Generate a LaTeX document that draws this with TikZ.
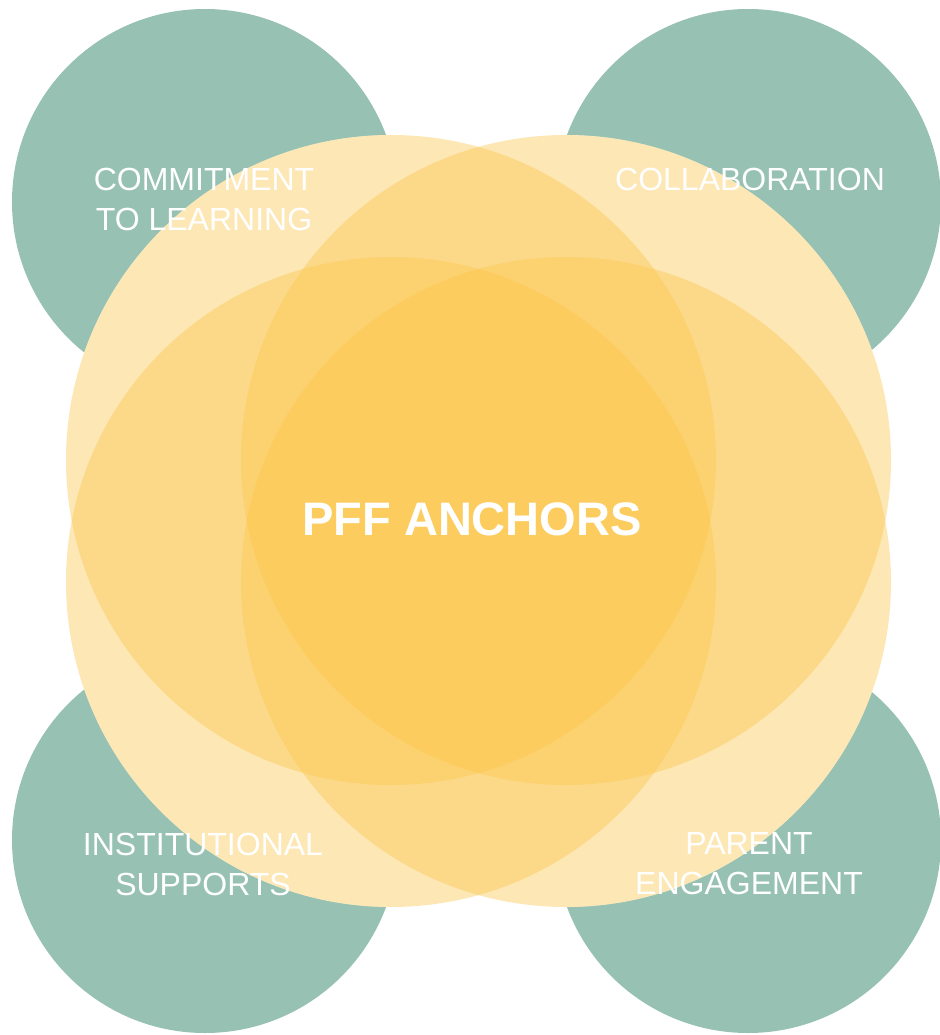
\documentclass[tikz,border=0pt]{standalone}
\usepackage{fontspec}
\setmainfont{Liberation Sans}
\definecolor{sage}{RGB}{150,193,179}
\definecolor{yel}{RGB}{252,197,72}
\tikzset{
  greencirc/.style={circle, fill=sage, minimum size=386pt, inner sep=0pt},
  yelbase/.style={circle, fill=white, minimum size=650pt, inner sep=0pt},
  yelcirc/.style={circle, fill=yel, fill opacity=0.4, minimum size=650pt, inner sep=0pt},
  lab/.style={text=white, align=center, inner sep=0pt, font=\fontsize{32}{40}\selectfont},
  title/.style={text=white, inner sep=0pt, font=\fontsize{47}{56}\selectfont\bfseries}
}
\begin{document}
\begin{tikzpicture}[x=1pt,y=-1pt]
\useasboundingbox (0,0) rectangle (939,1035);
% green circles
\node[greencirc] (gtl) at (205,202) {};
\node[greencirc] (gtr) at (748,202) {};
\node[greencirc] (gbl) at (205,840) {};
\node[greencirc] (gbr) at (748,840) {};
% white underlay
\node[yelbase] (wtl) at (391,460) {};
\node[yelbase] (wtr) at (566,460) {};
\node[yelbase] (wbl) at (391,582) {};
\node[yelbase] (wbr) at (566,582) {};
% translucent yellow circles
\node[yelcirc] (ytl) at (391,460) {};
\node[yelcirc] (ytr) at (566,460) {};
\node[yelcirc] (ybl) at (391,582) {};
\node[yelcirc] (ybr) at (566,582) {};
% labels
\node[lab] (l1) at (204,199) {COMMITMENT\\TO LEARNING};
\node[lab, anchor=base] (l2) at (750,190) {COLLABORATION};
\node[lab] (l3) at (203,864) {INSTITUTIONAL\\SUPPORTS};
\node[lab] (l4) at (749,864) {PARENT\\ENGAGEMENT};
\node[title, anchor=base] (t) at (472,535) {PFF ANCHORS};
\end{tikzpicture}
\end{document}
